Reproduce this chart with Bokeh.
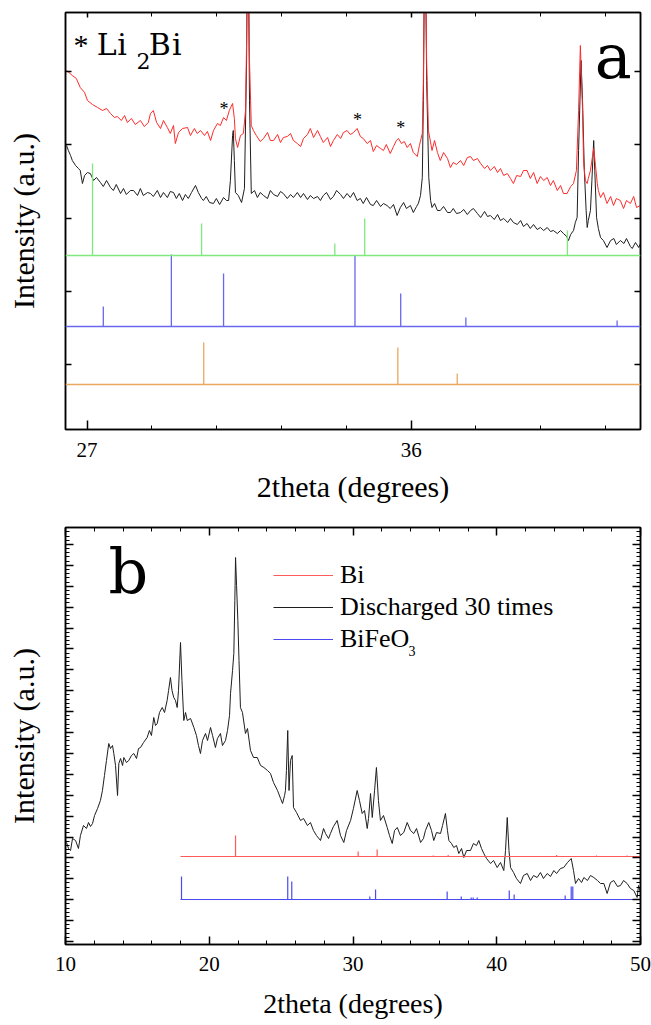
import math
from bokeh.plotting import figure
from bokeh.models import (Range1d, LinearAxis, SingleIntervalTicker, FixedTicker,
                          CustomJSTickFormatter, Legend, LegendItem, Span, Title)
from bokeh.core.properties import value
from bokeh.layouts import column
from bokeh.embed import file_html
from bokeh.resources import INLINE

SERIF = "Liberation Serif"
BIG_SERIF = "DejaVu Serif"

# ---------------- panel a data ----------------
a_red_x = [26.43, 26.59, 26.70, 26.81, 26.93, 27.01, 27.15, 27.29, 27.43, 27.54, 27.65, 27.76, 27.84, 27.95,
           28.04, 28.12, 28.23, 28.34, 28.48, 28.59, 28.70, 28.76, 28.84, 28.93, 29.04, 29.12, 29.23, 29.31,
           29.40, 29.45, 29.54, 29.65, 29.79, 29.87, 29.98, 30.06, 30.15, 30.26, 30.34, 30.43, 30.51, 30.62,
           30.70, 30.79, 30.87, 30.95, 31.04, 31.09, 31.12, 31.18, 31.26, 31.34, 31.40, 31.43, 31.45, 31.48,
           31.51, 31.56, 31.62, 31.70, 31.81, 31.90, 32.01, 32.09, 32.18, 32.29, 32.37, 32.45, 32.56, 32.65,
           32.73, 32.84, 32.93, 33.01, 33.12, 33.20, 33.29, 33.40, 33.48, 33.56, 33.68, 33.76, 33.84, 33.95,
           34.04, 34.12, 34.22, 34.31, 34.40, 34.50, 34.59, 34.67, 34.78, 34.87, 34.95, 35.04, 35.15, 35.23,
           35.31, 35.42, 35.51, 35.59, 35.65, 35.73, 35.81, 35.89, 35.98, 36.06, 36.17, 36.23, 36.31, 36.34,
           36.37, 36.40, 36.43, 36.48, 36.58, 36.65, 36.73, 36.81, 36.90, 37.01, 37.09, 37.17, 37.26, 37.37,
           37.46, 37.56, 37.65, 37.73, 37.84, 37.93, 38.04, 38.12, 38.20, 38.31, 38.40, 38.48, 38.57, 38.67,
           38.76, 38.84, 38.93, 39.04, 39.12, 39.22, 39.31, 39.40, 39.50, 39.59, 39.68, 39.78, 39.87, 39.95,
           40.06, 40.15, 40.23, 40.33, 40.43, 40.51, 40.59, 40.65, 40.70, 40.76, 40.79, 40.84, 40.89, 40.92,
           40.98, 41.04, 41.07, 41.12, 41.17, 41.20, 41.26, 41.34, 41.44, 41.54, 41.62, 41.70, 41.81, 41.90,
           41.98, 42.09, 42.18, 42.26, 42.37]
a_red_y = [359, 354, 351, 342, 337, 329, 325, 322, 319, 321, 316, 312, 313, 309,
           314, 307, 311, 305, 309, 303, 307, 316, 319, 307, 301, 309, 302, 296,
           304, 286, 297, 301, 302, 294, 301, 296, 299, 294, 298, 289, 299, 306,
           304, 312, 309, 319, 326, 311, 291, 282, 294, 296, 319, 389, 469, 469,
           369, 304, 299, 294, 288, 291, 297, 289, 289, 295, 287, 292, 293, 296,
           289, 286, 283, 291, 295, 301, 292, 299, 293, 287, 292, 283, 289, 295,
           291, 297, 299, 295, 297, 301, 293, 291, 286, 289, 278, 284, 281, 279,
           285, 276, 283, 289, 291, 286, 288, 282, 286, 277, 273, 284, 296, 349,
           469, 469, 369, 299, 279, 289, 277, 269, 277, 271, 262, 267, 265, 269,
           264, 272, 273, 269, 271, 266, 261, 264, 259, 263, 257, 261, 254, 256,
           251, 246, 254, 253, 259, 259, 251, 257, 246, 253, 249, 252, 244, 249,
           239, 244, 236, 236, 243, 246, 259, 319, 384, 319, 266, 249, 246, 251,
           259, 274, 281, 264, 246, 239, 232, 237, 226, 233, 224, 231, 229, 221,
           229, 226, 233, 222, 224]

a_black_x = [26.43, 26.48, 26.54, 26.59, 26.68, 26.76, 26.81, 26.87, 26.93, 27.01, 27.09, 27.18, 27.26, 27.37,
             27.45, 27.54, 27.65, 27.73, 27.81, 27.93, 28.01, 28.09, 28.20, 28.29, 28.40, 28.48, 28.56, 28.68,
             28.76, 28.84, 28.95, 29.04, 29.12, 29.23, 29.31, 29.40, 29.48, 29.56, 29.65, 29.73, 29.81, 29.90,
             30.01, 30.09, 30.18, 30.23, 30.31, 30.40, 30.51, 30.59, 30.68, 30.79, 30.87, 30.93, 30.98, 31.04,
             31.06, 31.09, 31.12, 31.20, 31.29, 31.37, 31.43, 31.45, 31.48, 31.51, 31.56, 31.65, 31.73, 31.81,
             31.90, 32.01, 32.09, 32.18, 32.29, 32.37, 32.45, 32.56, 32.65, 32.73, 32.84, 32.93, 33.01, 33.12,
             33.20, 33.29, 33.40, 33.48, 33.56, 33.65, 33.76, 33.84, 33.93, 34.04, 34.12, 34.22, 34.31, 34.40,
             34.50, 34.59, 34.67, 34.76, 34.87, 34.95, 35.04, 35.15, 35.23, 35.33, 35.42, 35.51, 35.61, 35.70,
             35.79, 35.87, 35.98, 36.06, 36.15, 36.20, 36.26, 36.31, 36.34, 36.37, 36.40, 36.43, 36.49, 36.54,
             36.58, 36.65, 36.73, 36.81, 36.90, 37.01, 37.09, 37.17, 37.26, 37.37, 37.46, 37.56, 37.65, 37.73,
             37.84, 37.93, 38.04, 38.12, 38.20, 38.31, 38.40, 38.48, 38.57, 38.68, 38.76, 38.84, 38.95, 39.04,
             39.12, 39.22, 39.31, 39.40, 39.50, 39.59, 39.68, 39.78, 39.87, 39.95, 40.06, 40.15, 40.23, 40.32,
             40.37, 40.43, 40.51, 40.56, 40.61, 40.65, 40.72, 40.76, 40.81, 40.86, 40.89, 40.92, 40.98, 41.02,
             41.07, 41.10, 41.15, 41.20, 41.26, 41.34, 41.44, 41.54, 41.63, 41.70, 41.81, 41.91, 41.98, 42.09,
             42.14, 42.23, 42.32, 42.37]
a_black_y = [284, 279, 274, 269, 264, 261, 259, 246, 254, 257, 256, 249, 252, 247,
             243, 249, 242, 239, 245, 236, 241, 235, 239, 239, 234, 241, 234, 237,
             236, 233, 239, 232, 237, 232, 238, 237, 231, 236, 229, 235, 231, 237,
             244, 237, 231, 229, 233, 227, 226, 231, 225, 232, 229, 229, 249, 294,
             299, 269, 237, 234, 227, 241, 369, 469, 469, 329, 236, 239, 232, 237,
             234, 231, 239, 235, 233, 238, 236, 231, 235, 232, 237, 232, 236, 230,
             234, 231, 233, 229, 234, 237, 230, 233, 239, 235, 231, 236, 232, 237,
             229, 231, 226, 232, 225, 224, 229, 223, 226, 224, 221, 225, 214, 222,
             227, 221, 224, 217, 223, 226, 234, 252, 329, 469, 469, 349, 252, 229,
             222, 226, 219, 219, 223, 217, 217, 221, 216, 217, 220, 215, 219, 221,
             216, 212, 218, 213, 214, 210, 215, 209, 211, 207, 211, 207, 205, 209,
             203, 206, 201, 205, 200, 202, 199, 202, 198, 199, 196, 199, 196, 193,
             189, 195, 199, 207, 212, 279, 369, 329, 259, 219, 202, 209, 219, 249,
             289, 259, 212, 201, 192, 189, 182, 189, 191, 185, 189, 186, 191, 183,
             181, 187, 182, 186]

a_green_pos = [27.15, 30.18, 33.88, 34.71, 40.34]
a_green_int = [92, 32, 12, 37, 25]
a_blue_pos = [27.45, 29.34, 30.79, 34.44, 35.71, 37.52, 41.72]
a_blue_int = [20, 72, 53, 71, 33, 9, 6]
a_orange_pos = [30.24, 35.63, 37.28]
a_orange_int = [42, 37, 11]
a_yticks = [65, 138, 211, 285, 358]

# ---------------- panel b data ----------------
b_x = [10.07, 10.21, 10.35, 10.49, 10.70, 10.90, 11.04, 11.25, 11.46, 11.60, 11.74, 11.88, 12.02, 12.23,
       12.43, 12.57, 12.71, 12.85, 13.01, 13.13, 13.27, 13.36, 13.48, 13.62, 13.71, 13.83, 13.97, 14.06,
       14.24, 14.40, 14.59, 14.75, 14.94, 15.08, 15.22, 15.43, 15.68, 15.84, 15.98, 16.14, 16.26, 16.38,
       16.54, 16.73, 16.89, 17.07, 17.17, 17.30, 17.41, 17.53, 17.65, 17.77, 17.86, 18.00, 18.10, 18.23,
       18.35, 18.47, 18.70, 18.93, 19.11, 19.25, 19.39, 19.53, 19.74, 19.88, 20.09, 20.23, 20.43, 20.57,
       20.78, 20.92, 21.13, 21.27, 21.41, 21.48, 21.62, 21.71, 21.78, 21.83, 21.90, 21.99, 22.07, 22.17,
       22.31, 22.52, 22.66, 22.87, 23.08, 23.34, 23.57, 23.80, 24.05, 24.26, 24.47, 24.75, 24.96, 25.10,
       25.24, 25.30, 25.37, 25.46, 25.55, 25.65, 25.77, 25.86, 26.07, 26.35, 26.56, 26.83, 27.04, 27.25,
       27.46, 27.74, 27.95, 28.09, 28.30, 28.43, 28.64, 28.90, 29.13, 29.36, 29.55, 29.83, 30.03, 30.29,
       30.45, 30.64, 30.80, 30.99, 31.08, 31.22, 31.34, 31.50, 31.63, 31.77, 31.91, 32.12, 32.38, 32.54,
       32.73, 32.89, 33.08, 33.30, 33.53, 33.77, 34.00, 34.23, 34.42, 34.70, 34.90, 35.04, 35.27, 35.46,
       35.62, 35.81, 36.09, 36.23, 36.43, 36.57, 36.67, 36.85, 37.01, 37.20, 37.36, 37.55, 37.71, 37.90,
       38.17, 38.38, 38.59, 38.75, 38.94, 39.10, 39.29, 39.57, 39.78, 40.03, 40.26, 40.49, 40.61, 40.73,
       40.85, 40.96, 41.17, 41.37, 41.65, 41.86, 42.12, 42.35, 42.56, 42.81, 43.04, 43.25, 43.51, 43.74,
       43.97, 44.16, 44.43, 44.66, 44.92, 45.18, 45.34, 45.48, 45.69, 45.90, 46.06, 46.31, 46.52, 46.75,
       47.01, 47.22, 47.45, 47.68, 47.91, 48.14, 48.40, 48.61, 48.82, 49.07, 49.30, 49.53, 49.77, 49.86,
       50.00]
b_y = [99, 93, 91, 103, 101, 93, 106, 116, 113, 119, 115, 118, 126, 133,
       141, 151, 166, 181, 198, 193, 196, 188, 176, 146, 178, 183, 176, 184,
       179, 181, 186, 188, 183, 193, 194, 199, 204, 211, 206, 224, 216, 218,
       229, 234, 229, 241, 251, 264, 251, 244, 241, 234, 251, 299, 261, 221,
       229, 221, 223, 214, 206, 196, 188, 201, 208, 201, 214, 206, 194, 203,
       208, 196, 201, 211, 226, 248, 271, 288, 341, 384, 356, 321, 281, 234,
       229, 208, 213, 191, 184, 184, 176, 174, 171, 168, 159, 151, 143, 138,
       146, 151, 171, 211, 151, 181, 186, 134, 129, 121, 123, 116, 119, 111,
       106, 101, 113, 108, 103, 108, 115, 121, 106, 99, 111, 121, 133, 151,
       141, 128, 131, 113, 123, 148, 124, 151, 174, 141, 121, 126, 114, 106,
       98, 111, 114, 106, 109, 119, 111, 108, 113, 99, 103, 111, 119, 111,
       101, 109, 108, 116, 128, 111, 101, 98, 94, 96, 88, 93, 84, 91,
       91, 98, 96, 101, 93, 88, 83, 78, 81, 74, 79, 71, 91, 124,
       91, 74, 69, 63, 58, 66, 68, 61, 66, 64, 69, 63, 68, 65,
       71, 68, 73, 74, 79, 83, 71, 58, 63, 59, 64, 61, 66, 64,
       61, 58, 58, 48, 59, 61, 55, 56, 61, 58, 53, 51, 44, 56,
       49]

b_pattern_range = [18.0, 50.0]
b_bi_pos = [21.83, 30.36, 31.68, 35.58, 36.62, 44.16, 46.94, 49.07]
b_bi_int = [21, 5, 7, 1, 1.5, 1.5, 1, 1]
b_bfo_pos = [18.07, 25.46, 25.74, 31.17, 31.57, 36.55, 37.53, 38.22, 38.36, 38.64,
             40.87, 41.21, 44.76, 45.18, 45.29]
b_bfo_int = [23, 23, 18, 3, 10, 8, 3, 2, 2, 2, 9, 5, 4, 13, 13]

# ---------------- layout constants (offsets, not data) ----------------
A_GREEN_BASE, A_BLUE_BASE, A_ORANGE_BASE = 174, 103, 45
B_BI_BASE, B_BFO_BASE = 85, 42


def axis(ticker, major_in, minor_in, labels, size="21px", standoff=8):
    ax = LinearAxis(ticker=ticker)
    ax.major_tick_in = major_in
    ax.major_tick_out = 0
    ax.minor_tick_in = minor_in
    ax.minor_tick_out = 0
    ax.axis_line_color = "black"
    ax.axis_line_width = 1.5
    ax.major_tick_line_width = 1.5
    ax.minor_tick_line_width = 1
    if labels:
        ax.major_label_text_font = SERIF
        ax.major_label_text_font_size = size
        ax.major_label_text_color = "black"
        ax.major_label_standoff = standoff
    else:
        ax.formatter = CustomJSTickFormatter(code="return ''")
        ax.major_label_text_font_size = "1px"
        ax.major_label_standoff = 0
    return ax


def set_axis_label(ax, text, standoff, size):
    ax.axis_label = text
    ax.axis_label_text_font = SERIF
    ax.axis_label_text_font_size = size
    ax.axis_label_text_font_style = "normal"
    ax.axis_label_text_color = "black"
    ax.axis_label_standoff = standoff


def txt(p, x, y, s, size, font=SERIF, align="left"):
    p.text(x=[x], y=[y], text=[s], text_font=value(font), text_font_size=value(size),
           text_align=align, text_baseline="alphabetic", text_color="black")


def base_fig(h, xr, yr, top, bottom):
    p = figure(width=651, height=h, output_backend="svg", toolbar_location=None,
               x_range=Range1d(*xr), y_range=Range1d(*yr),
               x_axis_type=None, y_axis_type=None,
               min_border_left=65, min_border_right=11, min_border_top=top,
               min_border_bottom=bottom)
    p.outline_line_color = "black"
    p.outline_line_width = 1.5
    p.background_fill_color = "white"
    p.border_fill_color = "white"
    return p


# ================= panel a =================
pa = base_fig(521, (26.40, 42.37), (0, 417), 12, 92)
pa.add_layout(axis(SingleIntervalTicker(interval=9, num_minor_ticks=5), 9, 4, True, "21px", 13), "below")
pa.add_layout(axis(SingleIntervalTicker(interval=9, num_minor_ticks=5), 5, 4, False), "above")
ax_al = axis(FixedTicker(ticks=a_yticks, minor_ticks=[]), 6, 0, False)
set_axis_label(ax_al, "Intensity (a.u.)", 26, "30px")
pa.add_layout(ax_al, "left")
pa.add_layout(axis(FixedTicker(ticks=a_yticks, minor_ticks=[]), 6, 0, False), "right")
pa.add_layout(Title(text="2theta (degrees)", align="center", offset=33, standoff=16,
                    text_font=SERIF, text_font_size="30px", text_font_style="normal",
                    text_color="black"), "below")

pa.line(a_black_x, a_black_y, line_color="#1e1e1e", line_width=1)
pa.line(a_red_x, a_red_y, line_color="#ff2a2a", line_width=1)

for base, pos, inten, col in [(A_GREEN_BASE, a_green_pos, a_green_int, "#7fe87f"),
                              (A_BLUE_BASE, a_blue_pos, a_blue_int, "#6868ee"),
                              (A_ORANGE_BASE, a_orange_pos, a_orange_int, "#e9a860")]:
    pa.add_layout(Span(location=base, dimension="width", line_color=col, line_width=1.5))
    pa.segment(x0=pos, y0=[base] * len(pos), x1=pos, y1=[base + v for v in inten],
               line_color=col, line_width=1.3)

txt(pa, 26.62, 385, "*", "30px")
txt(pa, 27.27, 385, "L", "30px", BIG_SERIF)
txt(pa, 27.84, 385, "i", "30px", BIG_SERIF)
txt(pa, 28.37, 369, "2", "22px", BIG_SERIF)
txt(pa, 28.71, 385, "B", "30px", BIG_SERIF)
txt(pa, 29.36, 385, "i", "30px", BIG_SERIF)
txt(pa, 30.80, 321, "*", "18px", align="center")
txt(pa, 34.51, 310, "*", "18px", align="center")
txt(pa, 35.71, 302, "*", "18px", align="center")
txt(pa, 41.10, 373, "a", "62px", BIG_SERIF)

# ================= panel b =================
pb = base_fig(504, (10, 50), (-3, 414), 6, 81)
ax_bb = axis(SingleIntervalTicker(interval=10, num_minor_ticks=5), 8, 4, True, "21px", 12)
set_axis_label(ax_bb, "2theta (degrees)", 14, "28px")
pb.add_layout(ax_bb, "below")
pb.add_layout(axis(SingleIntervalTicker(interval=10, num_minor_ticks=5), 8, 4, False), "above")
ax_bl = axis(SingleIntervalTicker(interval=20.9, num_minor_ticks=5), 8, 4, False)
set_axis_label(ax_bl, "Intensity (a.u.)", 26, "30px")
pb.add_layout(ax_bl, "left")
pb.add_layout(axis(SingleIntervalTicker(interval=20.9, num_minor_ticks=5), 8, 4, False), "right")

r_dis = pb.line(b_x, b_y, line_color="#1e1e1e", line_width=1)
pb.line(b_pattern_range, [B_BI_BASE, B_BI_BASE], line_color="#ff5a5a", line_width=1.2)
r_bi = pb.segment(x0=b_bi_pos, y0=[B_BI_BASE] * len(b_bi_pos), x1=b_bi_pos,
                  y1=[B_BI_BASE + v for v in b_bi_int], line_color="#ff5a5a", line_width=1.2)
pb.line(b_pattern_range, [B_BFO_BASE, B_BFO_BASE], line_color="#4a4af0", line_width=1.2)
r_bfo = pb.segment(x0=b_bfo_pos, y0=[B_BFO_BASE] * len(b_bfo_pos), x1=b_bfo_pos,
                   y1=[B_BFO_BASE + v for v in b_bfo_int], line_color="#4a4af0", line_width=1.2)

legend = Legend(items=[LegendItem(label="Bi", renderers=[r_bi]),
                       LegendItem(label="Discharged 30 times", renderers=[r_dis]),
                       LegendItem(label="BiFeO", renderers=[r_bfo])],
                location=(208, 289))
legend.border_line_color = None
legend.background_fill_alpha = 0
legend.label_text_font = SERIF
legend.label_text_font_size = "26px"
legend.label_text_color = "black"
legend.glyph_width = 60
legend.glyph_height = 32
legend.label_height = 32
legend.label_standoff = 7
legend.spacing = 0
legend.padding = 10
legend.margin = 0
pb.add_layout(legend)

txt(pb, 33.86, 291, "3", "14px")
txt(pb, 12.99, 370, "b", "62px", BIG_SERIF)

layout = column(pa, pb, spacing=0)
open("out.html", "w").write(file_html(layout, INLINE))
